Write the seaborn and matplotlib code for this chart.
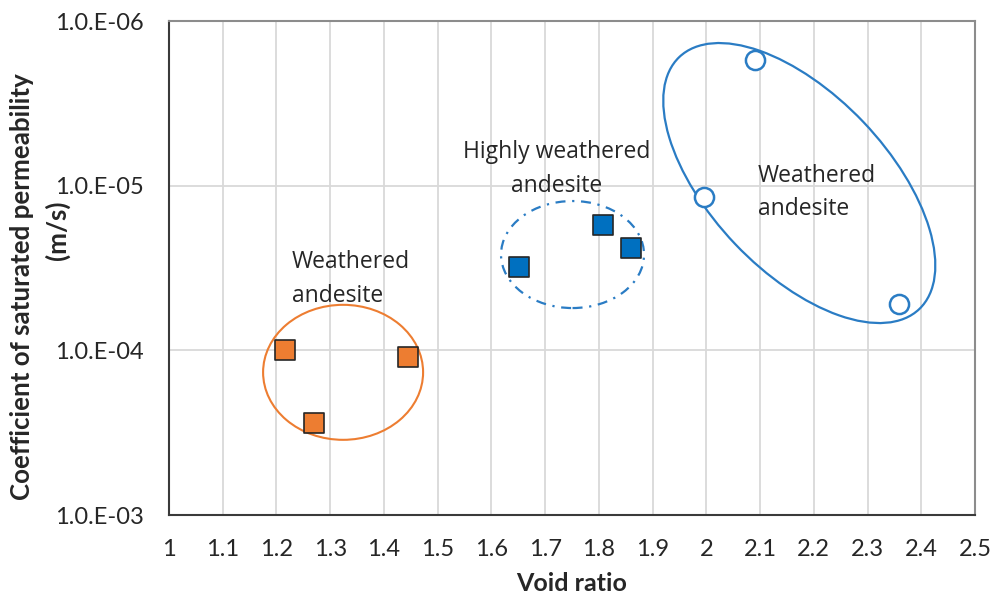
import matplotlib
matplotlib.use("Agg")
import matplotlib.pyplot as plt
import seaborn as sns
import pandas as pd
from matplotlib.patches import Ellipse
from matplotlib.transforms import ScaledTranslation

# Void ratio and saturated permeability (m/s) per rock group
weathered_low_void = [1.216, 1.270, 1.445]
weathered_low_k = [1.00e-4, 2.76e-4, 1.10e-4]
highly_weathered_void = [1.652, 1.808, 1.860]
highly_weathered_k = [3.12e-5, 1.73e-5, 2.39e-5]
weathered_high_void = [2.091, 1.996, 2.358]
weathered_high_k = [1.72e-6, 1.17e-5, 5.23e-5]

x_ticks = [1.0, 1.1, 1.2, 1.3, 1.4, 1.5, 1.6, 1.7, 1.8, 1.9, 2.0, 2.1, 2.2, 2.3, 2.4, 2.5]
x_tick_labels = ["1", "1.1", "1.2", "1.3", "1.4", "1.5", "1.6", "1.7",
                 "1.8", "1.9", "2", "2.1", "2.2", "2.3", "2.4", "2.5"]
y_ticks = [1e-6, 1e-5, 1e-4, 1e-3]
y_tick_labels = ["1.0.E-06", "1.0.E-05", "1.0.E-04", "1.0.E-03"]

sns.set_theme(style="white")
plt.rcParams["font.family"] = ["Lato", "DejaVu Sans"]

ORANGE = "#ED7D31"
BLUE = "#0070C0"
BLUE_LINE = "#2A7CC4"
TEXT = "#262626"

W, H = 998, 599
L, R, T, B = 169, 975, 21, 515

fig = plt.figure(figsize=(W / 100, H / 100), dpi=100)
ax = fig.add_axes([L / W, 1 - B / H, (R - L) / W, (B - T) / H])

df_low = pd.DataFrame({"void": weathered_low_void, "k": weathered_low_k})
df_mid = pd.DataFrame({"void": highly_weathered_void, "k": highly_weathered_k})
df_high = pd.DataFrame({"void": weathered_high_void, "k": weathered_high_k})

sns.scatterplot(data=df_low, x="void", y="k", ax=ax, marker="s", s=200,
                color=ORANGE, edgecolor="#262626", linewidth=1.2, zorder=4)
sns.scatterplot(data=df_mid, x="void", y="k", ax=ax, marker="s", s=200,
                color=BLUE, edgecolor="#262626", linewidth=1.2, zorder=4)
sns.scatterplot(data=df_high, x="void", y="k", ax=ax, marker="o", s=190,
                facecolor="white", edgecolor=BLUE_LINE, linewidth=1.8, zorder=4)

ax.set_yscale("log")
ax.set_xlim(1.0, 2.5)
ax.set_ylim(1e-3, 1e-6)
ax.set_xticks(x_ticks)
ax.set_xticklabels(x_tick_labels)
ax.set_yticks(y_ticks)
ax.set_yticklabels(y_tick_labels)
ax.minorticks_off()
ax.tick_params(axis="x", length=0, pad=17, labelsize=17, labelcolor=TEXT)
ax.tick_params(axis="y", length=0, pad=18, labelsize=17, labelcolor=TEXT)

ax.grid(True, color="#d9d9d9", linewidth=1.3, zorder=0)
ax.set_axisbelow(True)
for side in ("left", "bottom"):
    ax.spines[side].set_color("#3a3a3a")
    ax.spines[side].set_linewidth(1.5)
for side in ("top", "right"):
    ax.spines[side].set_color("#8c8c8c")
    ax.spines[side].set_linewidth(1.5)

ax.set_xlabel("Void ratio", fontsize=18, fontweight="bold", color=TEXT, labelpad=9)
ax.set_ylabel("")

# y-axis title, two lines placed by hand
fig.text(22 / W, 1 - 287 / H, "Coefficient of saturated permeability", rotation=90,
         ha="center", va="center", fontsize=18.6, fontweight="bold", color=TEXT)
fig.text(57 / W, 1 - 230 / H, "(m/s)", rotation=90,
         ha="center", va="center", fontsize=18.6, fontweight="bold", color=TEXT)


def group_ellipse(cx, cy, w_in, h_in, angle, **kw):
    # ellipse centred on a data point, sized in inches so it stays round on a log axis
    tr = fig.dpi_scale_trans + ScaledTranslation(cx, cy, ax.transData)
    e = Ellipse((0, 0), w_in, h_in, angle=angle, transform=tr, fill=False, zorder=3, **kw)
    ax.add_patch(e)


group_ellipse(1.324, 1.36e-4, 1.60, 1.35, 0, edgecolor=ORANGE, linewidth=1.5)
group_ellipse(1.751, 2.62e-5, 1.43, 1.07, 0, edgecolor=BLUE_LINE, linewidth=1.6,
              linestyle=(0, (4.5, 3, 1, 3)))
group_ellipse(2.173, 9.64e-6, 3.48, 1.77, -46.4, edgecolor=BLUE_LINE, linewidth=1.6)


def group_label(px, py, s, ha="left"):
    ax.text((px - L) / (R - L), 1 - (py - T) / (B - T), s, ha=ha, va="baseline",
            fontsize=16.5, family=["Open Sans", "DejaVu Sans"], color=TEXT,
            transform=ax.transAxes, zorder=5)


group_label(292, 268, "Weathered")
group_label(292, 302, "andesite")
group_label(556.5, 158, "Highly weathered", ha="center")
group_label(556.5, 192, "andesite", ha="center")
group_label(758, 182, "Weathered")
group_label(758, 215, "andesite")

fig.savefig("out.png", dpi=100, facecolor="white")
